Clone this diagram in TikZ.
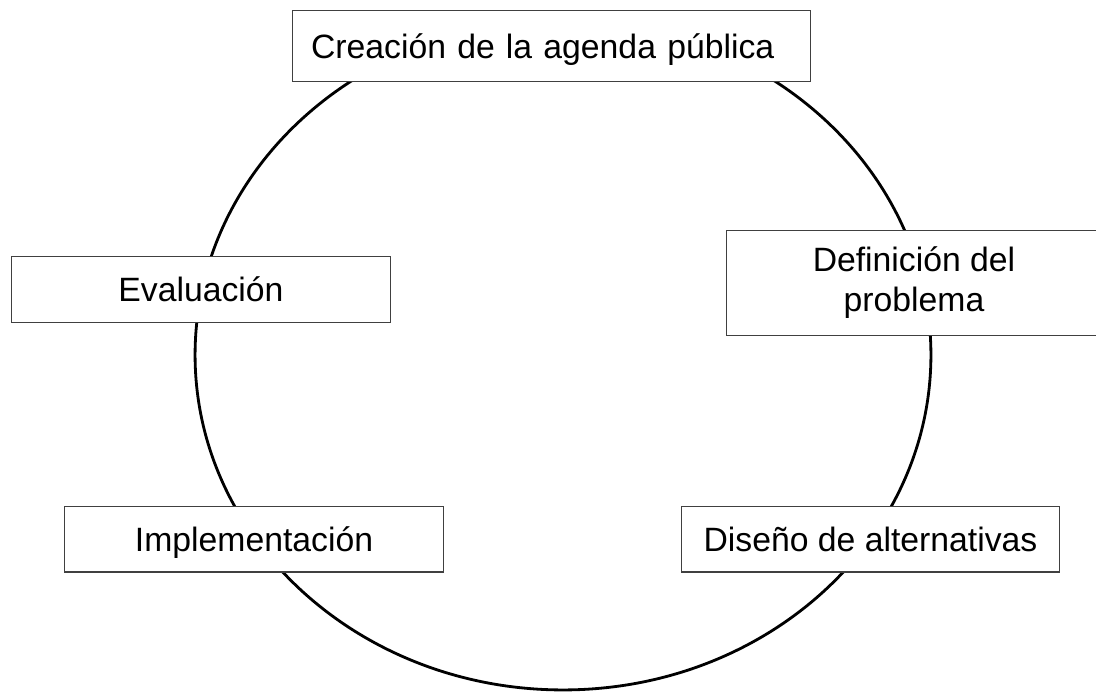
\documentclass[tikz,border=0pt]{standalone}
\usepackage{fontspec}
\setmainfont{Liberation Sans}
\usetikzlibrary{positioning}
\tikzset{
x=0.02cm, % one unit is one pixel of the sketch
y=-0.02cm, % y runs downwards, as in the sketch
every node/.style={font=\fontsize{19.2}{22.8}\selectfont}, % sets the text size of all labels
phase/.style={draw=black!75, line width=0.57pt, fill=white, inner sep=0pt, minimum height=1.32cm, text height=0.61cm, text depth=0.12cm}, % a box for one phase of the cycle
cycle/.style={draw=black, line width=1.6pt}, % the ring behind the boxes
}

\begin{document}
\begin{tikzpicture}
      \useasboundingbox (0,0) rectangle (1096,700);
      \coordinate (centre) at (563,355);
      \draw[cycle] (centre) ellipse [x radius=7.36cm, y radius=6.7cm];

      \node[phase, minimum width=10.38cm, minimum height=1.44cm, text width=9.62cm, align=left, inner xsep=0.38cm] (agenda) at (551.5,46) {Creación de la agenda pública};
      \node[phase, minimum width=7.6cm, minimum height=1.34cm] (evaluacion) at (201,289.5) {Evaluación};
      \node[phase, minimum width=7.52cm, minimum height=2.12cm, align=center, text height=, text depth=] (definicion) at (914,283) {Definición del\\problema};
      \node[phase, minimum width=7.6cm] (implementacion) at (254,539) {Implementación};
      \node[phase, minimum width=7.58cm] (diseno) at (870.5,539) {Diseño de alternativas};
\end{tikzpicture}
\end{document}
